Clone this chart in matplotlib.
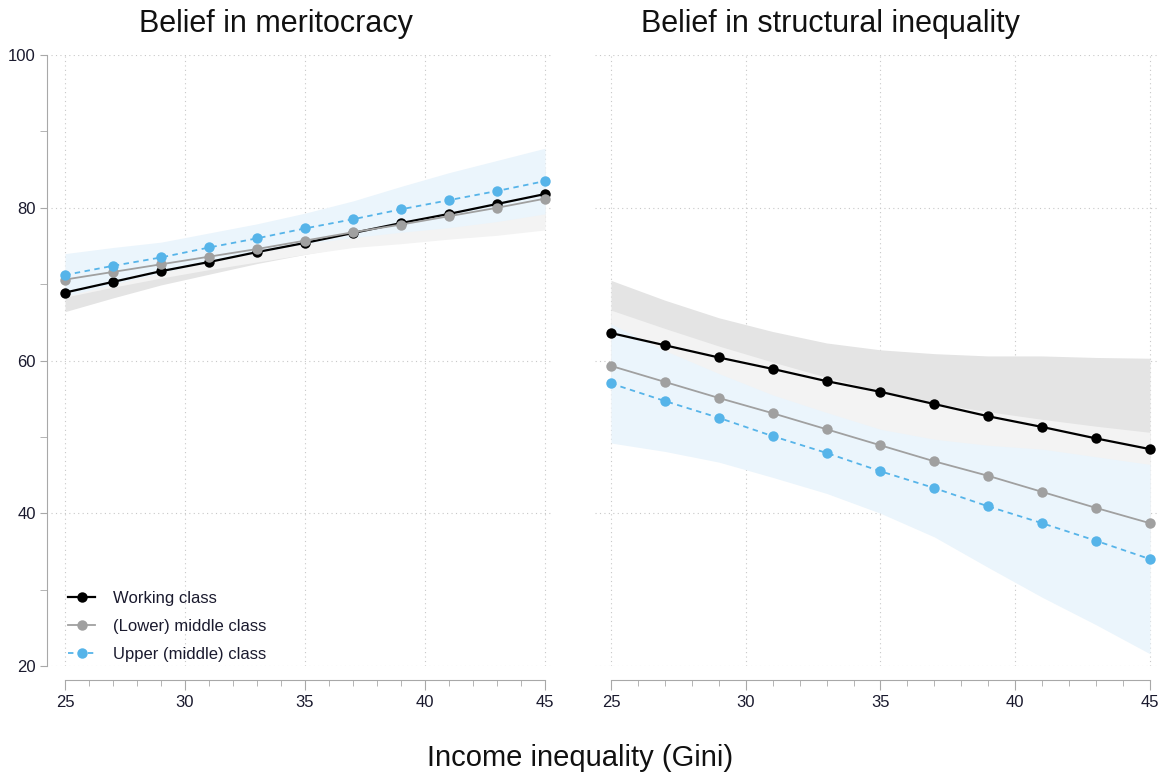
import matplotlib
matplotlib.use('Agg')
import matplotlib.pyplot as plt
import numpy as np
from matplotlib.ticker import MultipleLocator

plt.rcParams['font.family'] = ['Liberation Sans', 'DejaVu Sans']

gini = [25, 27, 29, 31, 33, 35, 37, 39, 41, 43, 45]
labels = ['Working class', '(Lower) middle class', 'Upper (middle) class']

# Belief in meritocracy
merit_work = [68.9, 70.3, 71.7, 72.9, 74.2, 75.4, 76.7, 78.0, 79.2, 80.5, 81.8]
merit_work_lo = [66.4, 68.2, 69.9, 71.3, 72.7, 73.9, 75.0, 76.0, 76.7, 77.5, 78.2]
merit_work_hi = [71.4, 72.4, 73.5, 74.5, 75.7, 76.9, 78.4, 80.0, 81.7, 83.5, 85.4]
merit_mid = [70.6, 71.6, 72.6, 73.6, 74.6, 75.7, 76.8, 77.8, 78.9, 80.0, 81.2]
merit_mid_lo = [68.3, 69.6, 70.8, 71.9, 72.9, 73.9, 74.8, 75.3, 75.9, 76.4, 77.1]
merit_mid_hi = [72.9, 73.6, 74.4, 75.3, 76.3, 77.5, 78.8, 80.3, 81.9, 83.6, 85.3]
merit_up = [71.2, 72.4, 73.5, 74.8, 76.0, 77.3, 78.5, 79.8, 81.0, 82.2, 83.5]
merit_up_lo = [68.4, 70.0, 71.5, 72.9, 74.1, 75.3, 76.1, 76.8, 77.4, 78.2, 79.2]
merit_up_hi = [74.0, 74.8, 75.5, 76.7, 77.9, 79.3, 80.9, 82.8, 84.6, 86.2, 87.8]

# Belief in structural inequality
struct_work = [63.6, 62.0, 60.4, 58.9, 57.3, 55.9, 54.3, 52.7, 51.3, 49.8, 48.4]
struct_work_lo = [56.7, 56.1, 55.2, 54.0, 52.3, 50.4, 47.7, 44.8, 42.0, 39.2, 36.5]
struct_work_hi = [70.5, 67.9, 65.6, 63.8, 62.3, 61.4, 60.9, 60.6, 60.6, 60.4, 60.3]
struct_mid = [59.3, 57.2, 55.1, 53.1, 51.0, 48.9, 46.8, 44.9, 42.8, 40.7, 38.7]
struct_mid_lo = [52.0, 50.2, 48.3, 46.4, 44.2, 41.8, 39.2, 36.5, 33.3, 30.0, 26.8]
struct_mid_hi = [66.6, 64.2, 61.9, 59.8, 57.8, 56.0, 54.4, 53.3, 52.3, 51.4, 50.6]
struct_up = [57.0, 54.7, 52.5, 50.1, 47.9, 45.5, 43.3, 40.9, 38.7, 36.4, 34.0]
struct_up_lo = [49.2, 48.1, 46.7, 44.7, 42.6, 40.0, 36.9, 32.9, 29.0, 25.4, 21.6]
struct_up_hi = [64.8, 61.3, 58.3, 55.5, 53.2, 51.0, 49.7, 48.9, 48.4, 47.4, 46.4]

line_colors = ['#000000', '#a0a0a0', '#56b4e9']
band_colors = ['#e4e4e4', '#f3f3f3', '#ebf5fc']
text_col = '#1a1a2e'
axis_col = '#a8a8a8'


def draw_panel(ax, series, show_y):
    for i, (m, lo, hi) in enumerate(series):
        ax.fill_between(gini, lo, hi, color=band_colors[i], lw=0, zorder=1 + i)
    for i, (m, lo, hi) in enumerate(series):
        ls = (0, (3, 2.5)) if i == 2 else '-'
        lw = 1.6 if i == 0 else 1.3
        ax.plot(gini, m, color=line_colors[i], ls=ls, lw=lw, marker='o',
                markersize=7.5, markeredgewidth=0, zorder=5 + i, label=labels[i])

    ax.set_xlim(24.4, 45.3)
    ax.set_ylim(20, 100)
    ax.xaxis.set_major_locator(MultipleLocator(5))
    ax.xaxis.set_minor_locator(MultipleLocator(1))
    ax.yaxis.set_major_locator(MultipleLocator(20))
    ax.yaxis.set_minor_locator(MultipleLocator(10))
    ax.grid(True, which='major', ls=(0, (1, 3)), lw=0.8, color='#c8c8c8', zorder=0)
    ax.set_axisbelow(True)

    for s in ['top', 'right']:
        ax.spines[s].set_visible(False)
    ax.spines['bottom'].set_position(('outward', 10))
    ax.spines['bottom'].set_bounds(25, 45)
    ax.spines['bottom'].set_color(axis_col)
    ax.tick_params(axis='x', which='major', length=7, color=axis_col,
                   labelsize=12, labelcolor=text_col, pad=4)
    ax.tick_params(axis='x', which='minor', length=4, color=axis_col)
    if show_y:
        ax.spines['left'].set_position(('outward', 2.6))
        ax.spines['left'].set_bounds(20, 100)
        ax.spines['left'].set_color(axis_col)
        ax.tick_params(axis='y', which='major', length=5, color=axis_col,
                       labelsize=12, labelcolor=text_col, pad=3)
        ax.tick_params(axis='y', which='minor', length=5, color=axis_col)
    else:
        ax.spines['left'].set_visible(False)
        ax.tick_params(axis='y', which='both', length=0, labelleft=False)


fig = plt.figure(figsize=(11.59, 7.74), dpi=100)
ax1 = fig.add_axes([0.0437, 0.1395, 0.4328, 0.7894])
ax2 = fig.add_axes([0.5132, 0.1395, 0.4860, 0.7894])

draw_panel(ax1, [(merit_work, merit_work_lo, merit_work_hi),
                 (merit_mid, merit_mid_lo, merit_mid_hi),
                 (merit_up, merit_up_lo, merit_up_hi)], True)
draw_panel(ax2, [(struct_work, struct_work_lo, struct_work_hi),
                 (struct_mid, struct_mid_lo, struct_mid_hi),
                 (struct_up, struct_up_lo, struct_up_hi)], False)

ax1.legend(loc='lower left', bbox_to_anchor=(0.012, -0.013), frameon=False,
           fontsize=12, handlelength=1.6, handletextpad=1.1, labelspacing=0.78,
           borderaxespad=0.3, labelcolor=text_col)

fig.text(276 / 1159, 1 - 32 / 774, 'Belief in meritocracy', ha='center',
         va='baseline', fontsize=22, color='#111111')
fig.text(830 / 1159, 1 - 32 / 774, 'Belief in structural inequality', ha='center',
         va='baseline', fontsize=22, color='#111111')
fig.text(580 / 1159, 1 - 766 / 774, 'Income inequality (Gini)', ha='center',
         va='baseline', fontsize=21, color='#111111')

fig.savefig('out.png', dpi=100)
